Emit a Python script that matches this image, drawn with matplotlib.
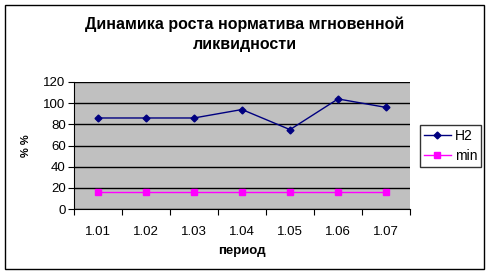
import numpy as np
import matplotlib
matplotlib.use("Agg")
import matplotlib.pyplot as plt
from matplotlib.patches import Rectangle

periods = ["1.01", "1.02", "1.03", "1.04", "1.05", "1.06", "1.07"]
h2 = [86, 86, 86, 94, 75, 104, 96]
min_level = [16, 16, 16, 16, 16, 16, 16]

plt.rcParams['font.family'] = ['Liberation Sans', 'DejaVu Sans']

fig = plt.figure(figsize=(4.9, 2.75), dpi=100)
fig.patches.append(Rectangle((5 / 490, 6 / 275), 479 / 490, 264 / 275,
                             transform=fig.transFigure, fill=False,
                             edgecolor='black', linewidth=1))

ax = fig.add_axes([74 / 490, 1 - 209 / 275, 336 / 490, 127 / 275])
ax.set_facecolor('#c0c0c0')
x = np.arange(len(periods))

ax.plot(x, h2, color='#000080', marker='D', markersize=3.5, linewidth=1, label='H2')
ax.plot(x, min_level, color='#ff00ff', marker='s', markersize=4, linewidth=1, label='min')

ax.set_xlim(-0.5, len(periods) - 0.5)
ax.set_ylim(0, 120)
ax.set_yticks(range(0, 121, 20))
ax.yaxis.grid(True, color='black', linewidth=1)
ax.set_axisbelow(True)

ax.set_xticks(np.arange(-0.5, len(periods), 1))
ax.set_xticklabels([])
ax.set_xticks(x, minor=True)
ax.set_xticklabels(periods, minor=True)
ax.tick_params(axis='x', which='minor', length=0, pad=12, labelsize=9.5)
ax.tick_params(axis='x', which='major', length=4, direction='out')
ax.tick_params(axis='y', length=4, direction='out', labelsize=9.5, pad=2)

for s in ['top', 'right']:
    ax.spines[s].set_visible(False)
ax.spines['left'].set_color('black')
ax.spines['bottom'].set_color('black')

ax.set_xlabel('период', fontsize=9.5, fontweight='bold', labelpad=5)
ax.set_ylabel('% %', fontsize=8, fontweight='bold', labelpad=9)

fig.text(0.5, 1 - 24 / 275, 'Динамика роста норматива мгновенной', ha='center',
         va='center', fontsize=11.5, fontweight='bold')
fig.text(0.5, 1 - 44 / 275, 'ликвидности', ha='center', va='center',
         fontsize=11.5, fontweight='bold')

leg = fig.legend(loc='upper left', bbox_to_anchor=(420 / 490, 1 - 125 / 275),
                 fontsize=10, frameon=True, fancybox=False, handlelength=1.9,
                 borderpad=0.3, labelspacing=0.4, handletextpad=0.3, borderaxespad=0)
leg.get_frame().set_edgecolor('black')
leg.get_frame().set_linewidth(1)

fig.savefig('out.png', dpi=100)
